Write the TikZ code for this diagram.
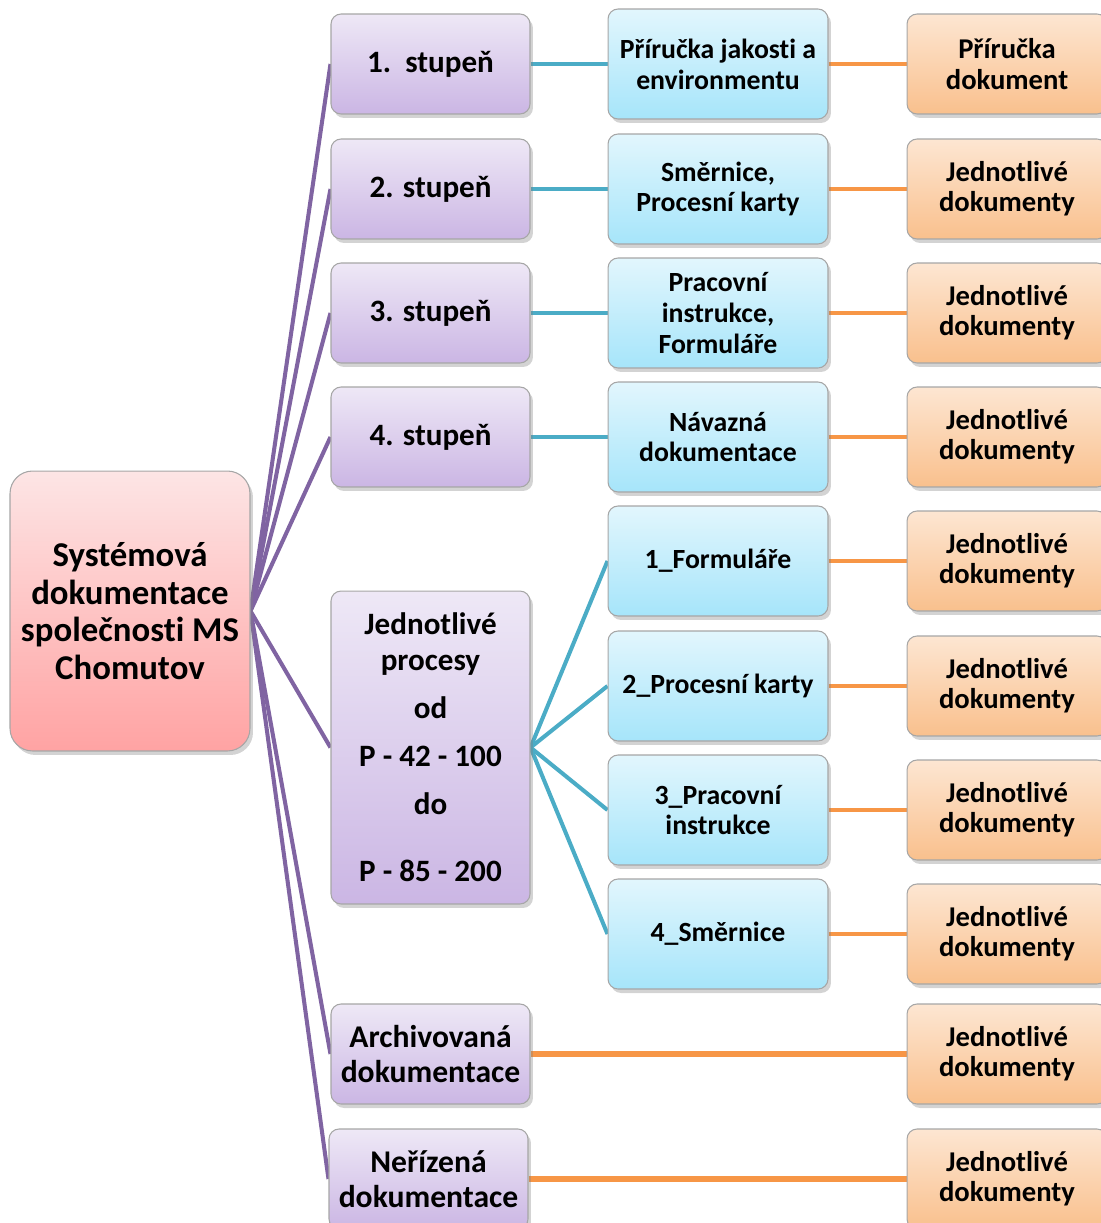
\documentclass[tikz,border=0pt]{standalone}
\usepackage{fontspec}
\setmainfont[Ligatures=NoCommon]{Carlito}
\usetikzlibrary{shadows,backgrounds}

\definecolor{carafial}{HTML}{8064A2}
\definecolor{caramodr}{HTML}{4BACC6}
\definecolor{caraoran}{HTML}{F79646}
\definecolor{fialhore}{HTML}{EEE8F6}
\definecolor{fialdole}{HTML}{CBB6E4}
\definecolor{modrhore}{HTML}{E2F6FD}
\definecolor{modrdole}{HTML}{A6E5FA}
\definecolor{oranhore}{HTML}{FDE6D2}
\definecolor{orandole}{HTML}{F9C08D}
\definecolor{ruzhore}{HTML}{FDE5E5}
\definecolor{ruzdole}{HTML}{FFA3A3}

\tikzset{
	krabice/.style={draw=black!35, line width=0.6pt, rounded corners=0.2cm, align=center, inner sep=1pt,
		drop shadow={shadow xshift=0.6mm, shadow yshift=-0.8mm, opacity=0.35}},
	koren/.style={krabice, top color=ruzhore, bottom color=ruzdole, rounded corners=0.45cm,
		minimum width=4.8cm, minimum height=5.6cm, font=\fontsize{19.8}{21.5}\selectfont\bfseries},
	stupen/.style={krabice, top color=fialhore, bottom color=fialdole,
		minimum width=3.98cm, minimum height=2cm, font=\fontsize{17.7}{20.4}\selectfont\bfseries},
	modra/.style={krabice, top color=modrhore, bottom color=modrdole,
		minimum width=4.4cm, minimum height=2.2cm, font=\fontsize{15.8}{17.5}\selectfont\bfseries},
	oranz/.style={krabice, top color=oranhore, bottom color=orandole,
		minimum width=4cm, minimum height=2cm, font=\fontsize{16.3}{17.2}\selectfont\bfseries},
	carafial/.style={draw=carafial, line width=2.3pt},
	caramodr/.style={draw=caramodr, line width=2.3pt},
	caraoran/.style={draw=caraoran, line width=2.3pt},
}

\begin{document}
\begin{tikzpicture}[x=0.02cm, y=-0.02cm]
		\useasboundingbox (0,0) rectangle (1100,1223);
		
		% koren
		\node[koren] (sys) at (130,611) {Systémová\\dokumentace\\společnosti MS\\Chomutov};
		
		% stupne
		\node[stupen] (s1) at (430.5,64) {1.\ \ stupeň};
		\node[stupen] (s2) at (430.5,189) {2. stupeň};
		\node[stupen] (s3) at (430.5,313) {3. stupeň};
		\node[stupen] (s4) at (430.5,437) {4. stupeň};
		\node[stupen, minimum height=6.26cm] (proc) at (430.5,747.5)
			{Jednotlivé\\procesy\\[0.24cm]od\\[0.24cm]P - 42 - 100\\[0.24cm]do\\[0.64cm]P - 85 - 200};
		\node[stupen, font=\fontsize{18}{20}\selectfont\bfseries] (arch) at (430.5,1054) {Archivovaná\\dokumentace};
		\node[stupen, font=\fontsize{18}{20}\selectfont\bfseries] (neri) at (428.5,1179) {Neřízená\\dokumentace};
		
		% modre
		\node[modra] (m1) at (718,64) {Příručka jakosti a\\environmentu};
		\node[modra] (m2) at (718,189) {Směrnice,\\Procesní karty};
		\node[modra] (m3) at (718,313) {Pracovní\\instrukce,\\Formuláře};
		\node[modra] (m4) at (718,437) {Návazná\\dokumentace};
		\node[modra] (m5) at (718,561) {1\_Formuláře};
		\node[modra] (m6) at (718,686) {2\_Procesní karty};
		\node[modra] (m7) at (718,810) {3\_Pracovní\\instrukce};
		\node[modra] (m8) at (718,934) {4\_Směrnice};
		
		% oranzove
		\node[oranz] (o1) at (1007,64) {Příručka\\dokument};
		\node[oranz] (o2) at (1007,189) {Jednotlivé\\dokumenty};
		\node[oranz] (o3) at (1007,313) {Jednotlivé\\dokumenty};
		\node[oranz] (o4) at (1007,437) {Jednotlivé\\dokumenty};
		\node[oranz] (o5) at (1007,561) {Jednotlivé\\dokumenty};
		\node[oranz] (o6) at (1007,686) {Jednotlivé\\dokumenty};
		\node[oranz] (o7) at (1007,810) {Jednotlivé\\dokumenty};
		\node[oranz] (o8) at (1007,934) {Jednotlivé\\dokumenty};
		\node[oranz] (o9) at (1007,1054) {Jednotlivé\\dokumenty};
		\node[oranz] (o10) at (1007,1179) {Jednotlivé\\dokumenty};
		
		\begin{scope}[on background layer]
		\foreach \s in {s1,s2,s3,s4,proc,arch,neri}
			\draw[carafial] (sys.east) -- (\s.west);
		\foreach \s/\m in {s1/m1,s2/m2,s3/m3,s4/m4,proc/m5,proc/m6,proc/m7,proc/m8}
			\draw[caramodr] (\s.east) -- (\m.west);
		\foreach \m/\o in {m1/o1,m2/o2,m3/o3,m4/o4,m5/o5,m6/o6,m7/o7,m8/o8}
			\draw[caraoran] (\m.east) -- (\o.west);
		\draw[caraoran, line width=3pt] (arch.east) -- (o9.west);
		\draw[caraoran, line width=3pt] (neri.east) -- (o10.west);
		\end{scope}
		
\end{tikzpicture}
\end{document}
